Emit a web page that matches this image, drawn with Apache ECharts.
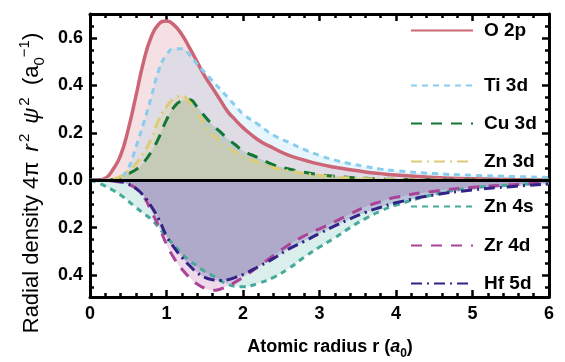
<!DOCTYPE html>
<html>
<head>
<meta charset="utf-8">
<script src="https://cdn.jsdelivr.net/npm/echarts@6/dist/echarts.min.js"></script>
<style>
  html, body { margin: 0; padding: 0; background: #fff; }
  #chart { width: 565px; height: 362px; }
</style>
</head>
<body>
<div id="chart"></div>
<script>
// radius grid (a0) shared by every curve
const radius = [0, 0.1, 0.2, 0.3, 0.4, 0.5, 0.6, 0.7, 0.8, 0.9, 1.0, 1.1, 1.2, 1.3, 1.4, 1.5, 1.6, 1.7, 1.8, 1.9, 2.0,
  2.2, 2.4, 2.6, 2.8, 3.0, 3.2, 3.4, 3.6, 3.8, 4.0, 4.5, 5.0, 5.5, 6.0]

// upper half
const o2p = [0, 0, 0.008, 0.045, 0.105, 0.215, 0.355, 0.5, 0.605, 0.66, 0.672, 0.655, 0.615, 0.56, 0.5, 0.44, 0.39, 0.34, 0.29, 0.255, 0.222,
  0.17, 0.135, 0.105, 0.085, 0.068, 0.055, 0.044, 0.035, 0.028, 0.022, 0.012, 0.006, 0.003, 0.001]
const ti3d = [0, 0, 0, 0.003, 0.013, 0.05, 0.14, 0.24, 0.35, 0.465, 0.53, 0.555, 0.555, 0.53, 0.49, 0.455, 0.42, 0.385, 0.35, 0.315, 0.28,
  0.235, 0.19, 0.16, 0.13, 0.105, 0.085, 0.07, 0.058, 0.047, 0.04, 0.028, 0.021, 0.016, 0.012]
const cu3d = [0, 0, 0, 0.003, 0.01, 0.028, 0.045, 0.075, 0.12, 0.18, 0.255, 0.31, 0.335, 0.34, 0.31, 0.27, 0.235, 0.205, 0.175, 0.15, 0.125,
  0.095, 0.065, 0.048, 0.034, 0.024, 0.017, 0.012, 0.008, 0.005, 0.004, 0.002, 0.001, 0, 0]
const zn3d = [0, 0, 0.001, 0.004, 0.015, 0.038, 0.07, 0.115, 0.175, 0.255, 0.31, 0.345, 0.355, 0.33, 0.285, 0.235, 0.195, 0.165, 0.14, 0.118, 0.1,
  0.075, 0.053, 0.039, 0.028, 0.02, 0.014, 0.01, 0.007, 0.005, 0.003, 0.001, 0, 0, 0]
// lower half (drawn as negative)
const zn4s = [0, -0.01, -0.025, -0.042, -0.062, -0.088, -0.115, -0.14, -0.165, -0.2, -0.24, -0.275, -0.31, -0.34, -0.362, -0.385, -0.402, -0.422, -0.44, -0.448, -0.45,
  -0.435, -0.41, -0.372, -0.325, -0.282, -0.243, -0.2, -0.162, -0.13, -0.105, -0.06, -0.032, -0.02, -0.012]
const zr4d = [0, 0, -0.001, -0.003, -0.008, -0.018, -0.033, -0.068, -0.13, -0.195, -0.27, -0.33, -0.375, -0.41, -0.438, -0.456, -0.465, -0.46, -0.447, -0.43, -0.41,
  -0.365, -0.318, -0.272, -0.235, -0.205, -0.175, -0.143, -0.112, -0.09, -0.072, -0.046, -0.03, -0.019, -0.01]
const hf5d = [0, 0, -0.001, -0.002, -0.006, -0.016, -0.035, -0.065, -0.11, -0.165, -0.235, -0.285, -0.325, -0.36, -0.39, -0.41, -0.42, -0.423, -0.42, -0.41, -0.398,
  -0.365, -0.33, -0.29, -0.258, -0.225, -0.193, -0.163, -0.136, -0.114, -0.095, -0.062, -0.041, -0.027, -0.016]

const names = ['O 2p', 'Ti 3d', 'Cu 3d', 'Zn 3d', 'Zn 4s', 'Zr 4d', 'Hf 5d']
const values = [o2p, ti3d, cu3d, zn3d, zn4s, zr4d, hf5d]
const colors = ['#CC6677', '#88CCEE', '#117733', '#DDCC77', '#44AA99', '#AA4499', '#332288']
const dashes = ['solid', [6, 5], [11, 9], [11, 5, 2, 5], [6, 5], [11, 9], [11, 5, 2, 5]]
const fills = [0.2, 0.2, 0.16, 0.22, 0.2, 0.2, 0.2]

const yMajor = [-0.4, -0.2, 0, 0.2, 0.4, 0.6]
const yMinor = [-0.45, -0.35, -0.3, -0.25, -0.15, -0.1, -0.05, 0.05, 0.1, 0.15, 0.25, 0.3, 0.35, 0.45, 0.5, 0.55, 0.65, 0.7]

const font = 'Liberation Sans, Arial, sans-serif'
const legendTops = [21, 76, 114, 152, 197, 236, 274]
const frame = { left: 90, right: 16, top: 14, bottom: 65 }

const chart = echarts.init(document.getElementById('chart'))

// grid 0 carries the data, lines and labels; grid 1 (same box) only carries the inward ticks
function xAxis(pos, g) {
  return {
    type: 'value', gridIndex: g, position: pos, min: 0, max: 6, interval: 1,
    axisLine: { show: g === 0, onZero: false, lineStyle: { color: '#000', width: 3 } },
    axisTick: { show: g === 1, inside: true, length: 7, lineStyle: { color: '#000', width: 2.5 } },
    minorTick: { show: g === 1, splitNumber: 5, length: 4, lineStyle: { color: '#000', width: 2.5 } },
    splitLine: { show: false },
    axisLabel: { show: g === 0 && pos === 'bottom', color: '#000', fontSize: 18, fontWeight: 'bold', fontFamily: font, margin: 8 }
  }
}

function yAxis(pos, g, ticks, len) {
  return {
    type: 'value', gridIndex: g, position: pos, min: -0.493, max: 0.702,
    axisLine: { show: g === 0, onZero: false, lineStyle: { color: '#000', width: 3 } },
    axisTick: { show: g === 1, inside: true, length: len, customValues: ticks, lineStyle: { color: '#000', width: 2.5 } },
    splitLine: { show: false },
    axisLabel: {
      show: g === 0 && pos === 'left', customValues: yMajor, color: '#000', fontSize: 18, fontWeight: 'bold', fontFamily: font, margin: 7,
      formatter: v => Math.abs(v).toFixed(1)
    }
  }
}

const series = names.map((name, k) => ({
  name: name,
  type: 'line',
  xAxisIndex: 0,
  yAxisIndex: 0,
  smooth: 0.5,
  symbol: 'none',
  data: radius.map((r, i) => [r, values[k][i]]),
  lineStyle: { color: colors[k], width: k === 0 ? 3.5 : 3, type: dashes[k] },
  itemStyle: { color: colors[k] },
  areaStyle: { color: colors[k], opacity: fills[k] }
}))

// zero line across the frame
series[series.length - 1].markLine = {
  silent: true, symbol: 'none', animation: false,
  label: { show: false },
  lineStyle: { color: '#000', width: 3, type: 'solid' },
  data: [{ yAxis: 0 }]
}

chart.setOption({
  animation: false,
  backgroundColor: '#fff',
  grid: [frame, frame],
  xAxis: [xAxis('bottom', 0), xAxis('top', 0), xAxis('bottom', 1), xAxis('top', 1)],
  yAxis: [
    yAxis('left', 0, yMajor, 7), yAxis('right', 0, yMajor, 7),
    yAxis('left', 1, yMajor, 7), yAxis('right', 1, yMajor, 7),
    yAxis('left', 1, yMinor, 4), yAxis('right', 1, yMinor, 4)
  ],
  legend: names.map((n, i) => ({
    data: [n], left: 410, top: legendTops[i], orient: 'vertical',
    itemWidth: 62, itemHeight: 14, padding: 0,
    itemStyle: { opacity: 0 },
    textStyle: { color: '#000', fontSize: 19, fontWeight: 'bold', fontFamily: font, padding: [0, 0, 0, 6] }
  })),
  graphic: [
    {
      type: 'text', x: 330, y: 347, silent: true,
      style: {
        text: 'Atomic radius r ({i|a}{sub|0})', fill: '#000', fontSize: 18, fontWeight: 'bold', fontFamily: font,
        align: 'center', verticalAlign: 'middle',
        rich: {
          i: { fontStyle: 'italic', fontWeight: 'bold', fontSize: 18, fontFamily: font, fill: '#000' },
          sub: { fontSize: 12, fontWeight: 'bold', fontFamily: font, fill: '#000', verticalAlign: 'bottom', lineHeight: 26 }
        }
      }
    },
    {
      type: 'text', x: 32, y: 183, rotation: Math.PI / 2, silent: true,
      style: {
        text: 'Radial density 4π {i|r}{sup|2} {i|ψ}{sup|2}  (a{sub|0}{sup|−1})', fill: '#000', fontSize: 22, fontFamily: font,
        align: 'center', verticalAlign: 'middle',
        rich: {
          i: { fontStyle: 'italic', fontSize: 22, fontFamily: font, fill: '#000', padding: [0, 2, 0, 4] },
          sup: { fontSize: 15, fontFamily: font, fill: '#000', verticalAlign: 'top', lineHeight: 30 },
          sub: { fontSize: 15, fontFamily: font, fill: '#000', verticalAlign: 'bottom', lineHeight: 30 }
        }
      }
    }
  ],
  series: series
})
</script>
</body>
</html>
